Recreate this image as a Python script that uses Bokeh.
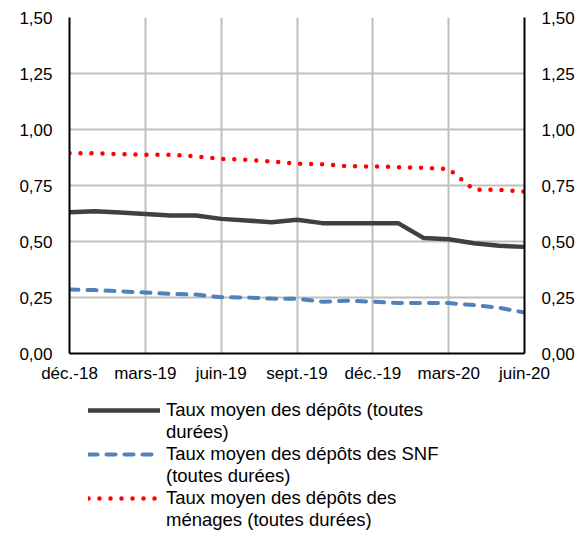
from bokeh.plotting import figure
from bokeh.models import Range1d, LinearAxis, Legend, LegendItem, FixedTicker
from bokeh.layouts import column
from bokeh.embed import file_html
from bokeh.resources import INLINE

months = list(range(19))
tick_labels = ["déc.-18", "mars-19", "juin-19", "sept.-19", "déc.-19", "mars-20", "juin-20"]
tick_positions = [0, 3, 6, 9, 12, 15, 18]

taux_total = [0.631, 0.635, 0.629, 0.623, 0.616, 0.616, 0.601, 0.594, 0.586, 0.597,
              0.582, 0.582, 0.582, 0.582, 0.516, 0.510, 0.492, 0.481, 0.476]
taux_snf = [0.286, 0.283, 0.278, 0.272, 0.266, 0.263, 0.251, 0.250, 0.245, 0.244,
            0.231, 0.236, 0.231, 0.225, 0.225, 0.225, 0.216, 0.204, 0.183]
taux_menages = [0.894, 0.894, 0.890, 0.887, 0.887, 0.880, 0.869, 0.865, 0.857, 0.847,
                0.845, 0.836, 0.835, 0.832, 0.829, 0.824, 0.731, 0.731, 0.723]

y_ticks = [0, 0.25, 0.5, 0.75, 1.0, 1.25, 1.5]
y_labels = ["0,00", "0,25", "0,50", "0,75", "1,00", "1,25", "1,50"]

legend_labels = [["Taux moyen des dépôts (toutes", "durées)"],
                 ["Taux moyen des dépôts des SNF", "(toutes durées)"],
                 ["Taux moyen des dépôts des", "ménages (toutes durées)"]]

FONT = "Liberation Sans"
COLORS = ["#404040", "#4F81BD", "#FF0000"]
WIDTHS = [4.5, 4, 4.5]
DASHES = ["solid", "9 9", "0 11"]
series = [taux_total, taux_snf, taux_menages]

p = figure(frame_width=455, frame_height=336, output_backend="svg", toolbar_location=None,
           x_range=Range1d(0, 18), y_range=Range1d(0, 1.5),
           min_border_left=69, min_border_right=62, min_border_top=17, min_border_bottom=46)
p.outline_line_color = None
p.background_fill_color = "white"
p.border_fill_color = "white"

for ax in [p.xaxis[0], p.yaxis[0]]:
    ax.axis_line_color = "black"
    ax.axis_line_width = 2
    ax.major_tick_line_color = None
    ax.minor_tick_line_color = None
    ax.major_tick_out = 0
    ax.major_label_text_font = FONT
    ax.major_label_text_font_size = "17px"
    ax.major_label_text_color = "black"

p.xaxis[0].ticker = FixedTicker(ticks=tick_positions)
p.xaxis[0].major_label_overrides = {t: l for t, l in zip(tick_positions, tick_labels)}
p.xaxis[0].major_label_standoff = 10
p.yaxis[0].ticker = FixedTicker(ticks=y_ticks)
p.yaxis[0].major_label_overrides = {t: l for t, l in zip(y_ticks, y_labels)}
p.yaxis[0].major_label_standoff = 17

ry = LinearAxis(ticker=FixedTicker(ticks=y_ticks))
ry.major_label_overrides = {t: l for t, l in zip(y_ticks, y_labels)}
ry.axis_line_color = "black"
ry.axis_line_width = 2
ry.major_tick_line_color = None
ry.minor_tick_line_color = None
ry.major_tick_out = 0
ry.major_label_text_font = FONT
ry.major_label_text_font_size = "17px"
ry.major_label_text_color = "black"
ry.major_label_standoff = 17
p.add_layout(ry, "right")

p.xgrid.grid_line_color = "#BFBFBF"
p.xgrid.grid_line_width = 2
p.ygrid.grid_line_color = "#BFBFBF"
p.ygrid.grid_line_width = 2

for s, c, w, d in zip(series, COLORS, WIDTHS, DASHES):
    p.line(months, s, line_color=c, line_width=w, line_dash=d, line_cap="round")

# legend figure (frame aligned with the main plot's frame)
leg = figure(frame_width=455, height=134, output_backend="svg", toolbar_location=None,
             x_range=Range1d(0, 18), y_range=Range1d(0, 1.5),
             x_axis_type=None, y_axis_type=None,
             min_border_left=69, min_border_right=62, min_border_top=0, min_border_bottom=0)
leg.outline_line_color = None
leg.xgrid.visible = False
leg.ygrid.visible = False
items = []
for s, c, w, d, lab in zip(series, COLORS, WIDTHS, DASHES, legend_labels):
    r = leg.line(months, s, line_color=c, line_width=w, line_dash=d, line_cap="round")
    r.visible = False
    items.append(LegendItem(label=lab[0], renderers=[r]))
    items.append(LegendItem(label=lab[1], renderers=[]))

legend = Legend(items=items, location=(19, 2), orientation="vertical")
legend.label_text_font = FONT
legend.label_text_font_size = "18.5px"
legend.label_text_color = "black"
legend.glyph_width = 72
legend.glyph_height = 22
legend.label_height = 22
legend.label_standoff = 6
legend.spacing = 0
legend.padding = 0
legend.margin = 0
legend.border_line_color = None
legend.background_fill_alpha = 0
leg.add_layout(legend, "center")

layout = column(p, leg, spacing=0)
open("out.html", "w").write(file_html(layout, INLINE))
